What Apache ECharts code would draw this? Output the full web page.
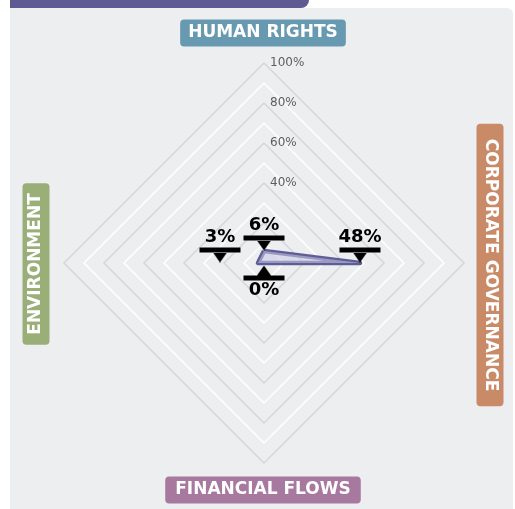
<!DOCTYPE html>
<html>
<head>
<meta charset="utf-8">
<script src="https://cdn.jsdelivr.net/npm/echarts@6/dist/echarts.min.js"></script>
<style>
  html, body { margin: 0; padding: 0; background: #fff; }
  #chart { width: 515px; height: 509px; }
</style>
</head>
<body>
<div id="chart"></div>
<script>
// indicators in radar order (top, left, bottom, right)
var indicatorNames = ['HUMAN RIGHTS', 'ENVIRONMENT', 'FINANCIAL FLOWS', 'CORPORATE GOVERNANCE'];
var indicatorColors = ['#6799b0', '#9aaf78', '#a7799f', '#c98a68'];
var scores = [6, 3, 0, 48];
var tickValues = [40, 60, 80, 100];

var chart = echarts.init(document.getElementById('chart'));
var FONT = 'DejaVu Sans';

// little triangle pointer drawn on a canvas, used as rich text background
function makeTri (down) {
  var c = document.createElement('canvas');
  c.width = 14; c.height = 10;
  var ctx = c.getContext('2d');
  ctx.fillStyle = '#000';
  ctx.beginPath();
  if (down) { ctx.moveTo(0, 0); ctx.lineTo(14, 0); ctx.lineTo(7, 10); }
  else { ctx.moveTo(7, 0); ctx.lineTo(14, 10); ctx.lineTo(0, 10); }
  ctx.closePath();
  ctx.fill();
  return c;
}

var richStyle = {
  v: { fontFamily: FONT, fontSize: 18, fontWeight: 'bold', color: '#000', lineHeight: 20 },
  bar: { backgroundColor: '#000', width: 41, height: 5, lineHeight: 5 },
  dn: { width: 14, height: 10, lineHeight: 10, backgroundColor: { image: makeTri(true) } },
  up: { width: 14, height: 10, lineHeight: 10, backgroundColor: { image: makeTri(false) } }
};

// label series - only shows the values it is given
function labelSeries (show, position, offset) {
  return {
    type: 'radar',
    silent: true,
    z: 5,
    symbol: 'circle',
    symbolSize: 1,
    itemStyle: { color: 'rgba(0,0,0,0)' },
    lineStyle: { width: 0, opacity: 0 },
    data: [{
      value: scores,
      label: {
        show: true,
        position: position,
        distance: 0,
        offset: offset,
        rich: richStyle,
        formatter: function (p) {
          if (show.indexOf(p.value) < 0) return '';
          if (position == 'bottom') return '{up|}\n{bar|}\n{v|' + p.value + '%}';
          return '{v|' + p.value + '%}\n{bar|}\n{dn|}';
        }
      }
    }]
  };
}

var nameBoxes = [
  { x: 263, y: 33, rot: 0, pad: [5, 8] },
  { x: 36, y: 264, rot: Math.PI / 2, pad: [5, 10] },
  { x: 263, y: 490, rot: 0, pad: [5, 10] },
  { x: 490, y: 265, rot: -Math.PI / 2, pad: [5, 15] }
];

var graphics = [
  { type: 'rect', z: -10, shape: { x: 10, y: 8, width: 503, height: 520, r: [0, 6, 0, 0] }, style: { fill: '#edeef0' } },
  { type: 'rect', z: -10, shape: { x: 10, y: 0, width: 299, height: 8, r: [0, 0, 8, 0] }, style: { fill: '#5f5b92' } }
];
for (var i = 0; i < indicatorNames.length; i++) {
  var b = nameBoxes[i];
  graphics.push({
    type: 'text', x: b.x, y: b.y, rotation: b.rot, z: 10,
    style: {
      text: indicatorNames[i], fill: '#fff', fontFamily: FONT, fontSize: 17, fontWeight: 'bold',
      backgroundColor: indicatorColors[i], padding: b.pad, borderRadius: 4,
      align: 'center', verticalAlign: 'middle'
    }
  });
}

var option = {
  animation: false,
  graphic: graphics,
  radar: {
    center: [264, 263],
    radius: 200,
    shape: 'polygon',
    splitNumber: 10,
    startAngle: 90,
    indicator: indicatorNames.map(function (n, i) {
      var ind = { name: n, min: 0, max: 100 };
      if (i == 0) {
        ind.axisLabel = {
          show: true, color: '#5e5e5e', fontFamily: FONT, fontSize: 12, margin: -6, align: 'left',
          formatter: function (v) { return tickValues.indexOf(v) >= 0 ? v + '%' : ''; }
        };
      }
      return ind;
    }),
    axisName: { show: false },
    axisLine: { show: false },
    axisTick: { show: false },
    axisLabel: { show: false },
    splitArea: { show: false },
    splitLine: { lineStyle: { color: ['#d6d6d6', '#ffffff'], width: 1.5 } }
  },
  series: [
    {
      type: 'radar',
      silent: true,
      symbol: 'none',
      lineStyle: { color: '#5f5d96', width: 4.5 },
      areaStyle: { color: 'rgba(200,200,228,0.8)' },
      data: [{ value: scores }]
    },
    labelSeries([6, 48], 'top', [0, 0]),
    labelSeries([3], 'top', [-38, 0]),
    labelSeries([0], 'bottom', [0, 2])
  ]
};
chart.setOption(option);
</script>
</body>
</html>
